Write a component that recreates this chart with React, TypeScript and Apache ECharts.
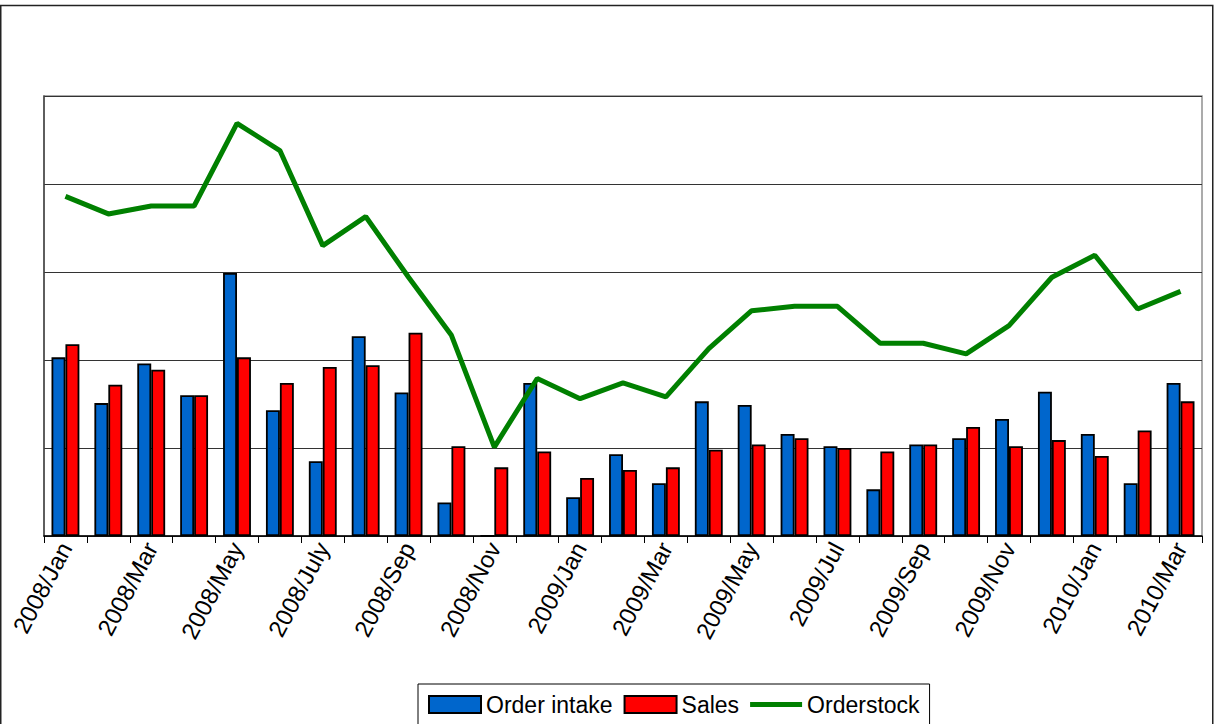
import React, { useEffect, useRef } from "react";
import * as echarts from "echarts";

const categories = [
  "2008/Jan", "2008/Feb", "2008/Mar", "2008/Apr", "2008/May", "2008/Jun",
  "2008/July", "2008/Aug", "2008/Sep", "2008/Oct", "2008/Nov", "2008/Dec",
  "2009/Jan", "2009/Feb", "2009/Mar", "2009/Apr", "2009/May", "2009/Jun",
  "2009/Jul", "2009/Aug", "2009/Sep", "2009/Oct", "2009/Nov", "2009/Dec",
  "2010/Jan", "2010/Feb", "2010/Mar",
];

const orderIntake = [
  2.03, 1.51, 1.96, 1.6, 2.99, 1.43, 0.85, 2.27, 1.63, 0.38, 0, 1.74,
  0.44, 0.93, 0.6, 1.53, 1.49, 1.16, 1.02, 0.53, 1.04, 1.11, 1.33, 1.64,
  1.16, 0.6, 1.74,
];

const sales = [
  2.18, 1.72, 1.89, 1.6, 2.03, 1.74, 1.92, 1.94, 2.31, 1.02, 0.78, 0.96,
  0.66, 0.75, 0.78, 0.98, 1.04, 1.11, 1.0, 0.96, 1.04, 1.24, 1.02, 1.09,
  0.91, 1.2, 1.53,
];

const orderstock = [
  3.86, 3.66, 3.75, 3.75, 4.69, 4.38, 3.3, 3.63, 2.94, 2.28, 1.01, 1.79,
  1.56, 1.74, 1.58, 2.13, 2.56, 2.61, 2.61, 2.19, 2.19, 2.07, 2.39, 2.94,
  3.19, 2.58, 2.78,
];

const seriesNames = ["Order intake", "Sales", "Orderstock"];

export default function App() {
  const ref = useRef<HTMLDivElement>(null);
  useEffect(() => {
    document.body.style.margin = "0";
    if (!ref.current) return;
    const chart = echarts.init(ref.current, null, { renderer: "svg" });
    const font = "'Liberation Sans', Arial, sans-serif";
    chart.setOption({
      animation: false,
      backgroundColor: "#fff",
      graphic: [
        {
          type: "rect",
          shape: { x: 0.75, y: 5.5, width: 1212, height: 740 },
          style: { fill: "none", stroke: "#222", lineWidth: 1.5 },
          silent: true,
        },
      ],
      grid: {
        left: 44,
        right: 14,
        top: 96,
        bottom: 188,
        show: true,
        borderColor: "#909090",
        borderWidth: 1.5,
      },
      legend: {
        data: [
          { name: seriesNames[0], icon: "rect" },
          { name: seriesNames[1], icon: "rect" },
          { name: seriesNames[2], icon: "path://M0,0 L52,0 L52,5 L0,5 Z" },
        ],
        left: 418,
        top: 684,
        padding: [9, 10, 12, 10],
        itemGap: 11,
        itemWidth: 52,
        itemHeight: 17,
        borderColor: "#000",
        borderWidth: 1,
        textStyle: { fontFamily: font, fontSize: 23, color: "#000" },
      },
      xAxis: {
        type: "category",
        data: categories,
        axisLine: { lineStyle: { color: "#000", width: 1.5 } },
        axisTick: { show: true, interval: 0, length: 7, lineStyle: { color: "#000" } },
        axisLabel: {
          interval: 1,
          rotate: 62,
          fontFamily: font,
          fontSize: 24,
          color: "#000",
          margin: 8,
        },
        splitLine: { show: false },
      },
      yAxis: {
        type: "value",
        min: 0,
        max: 5,
        interval: 1,
        axisLabel: { show: false },
        axisTick: { show: false },
        axisLine: { show: true, lineStyle: { color: "#444", width: 1.5 } },
        splitLine: { show: true, lineStyle: { color: "#333", width: 1 } },
      },
      series: [
        {
          name: seriesNames[0],
          type: "bar",
          data: orderIntake,
          barGap: "0%",
          barCategoryGap: "35%",
          itemStyle: { color: "#0066CC", borderColor: "#000", borderWidth: 1.8 },
        },
        {
          name: seriesNames[1],
          type: "bar",
          data: sales,
          barGap: "0%",
          barCategoryGap: "35%",
          itemStyle: { color: "#FF0000", borderColor: "#000", borderWidth: 1.8 },
        },
        {
          name: seriesNames[2],
          type: "line",
          data: orderstock,
          symbol: "none",
          lineStyle: { color: "#008000", width: 5 },
          itemStyle: { color: "#008000" },
        },
      ],
    });
    return () => chart.dispose();
  }, []);
  return (
    <div
      ref={ref}
      style={{ position: "fixed", left: 0, top: 0, width: 1216, height: 724 }}
    />
  );
}
